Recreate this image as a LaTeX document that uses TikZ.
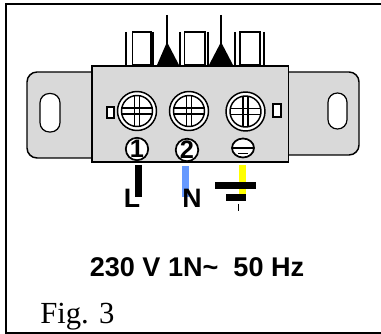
\documentclass[tikz,border=0pt]{standalone}
\usepackage{fontspec}
\setmainfont{Liberation Serif}
\newfontfamily\arialf{Liberation Sans}
\definecolor{bodygray}{HTML}{D9D9D9}
\definecolor{wireblue}{HTML}{6699FF}
\definecolor{wireyellow}{HTML}{FFFF00}
\tikzset{
  x=0.75pt,y=-0.75pt,
  frame/.style={draw=black,line width=1.6pt},
  part/.style={draw=black,line width=1.1pt,fill=bodygray},
  slot/.style={draw=black,line width=0.9pt,fill=white,rounded corners=7pt},
  pin/.style={draw=black,line width=0.9pt},
  blade/.style={draw=black,line width=0.9pt,fill=white},
  solid bar/.style={fill=black,draw=none},
  sanslabel/.style={font=\arialf\bfseries\fontsize{20}{22}\selectfont,inner sep=0pt,anchor=base},
  termlabel/.style={draw=black,line width=1.3pt,fill=white,circle,inner sep=0pt,font=\arialf\bfseries\fontsize{19}{19}\selectfont},
  screw/.style={draw=black,line width=1.1pt,fill=white},
}
\newcommand{\screwhead}[2]{%
  \path[screw] (#1,#2) circle[radius=19.5];
  \path[screw] (#1,#2) circle[radius=15.5];
  \draw[pin] (#1-15,#2-3) -- (#1+15,#2-3) (#1-15,#2+3) -- (#1+15,#2+3);
  \draw[pin] (#1-2.5,#2-15) -- (#1-2.5,#2+15) (#1+2.5,#2-15) -- (#1+2.5,#2+15);
}
\begin{document}
\begin{tikzpicture}
\useasboundingbox (0,0) rectangle (381,334);
\path[frame] (381,4) -- (6,4) -- (6,333) -- (381,333);
% ears
\path[part] (92,72) -- (37,72) arc[start angle=90,end angle=180,radius=7.5pt] -- (27,148) arc[start angle=180,end angle=270,radius=7.5pt] -- (92,158) -- cycle;
\path[part] (288,72) -- (349,72) arc[start angle=90,end angle=0,radius=7.5pt] -- (359,145) arc[start angle=0,end angle=-90,radius=7.5pt] -- (288,155) -- cycle;
\path[slot] (40,93.5) rectangle (60,132);
\path[slot] (328,93) rectangle (347,129);
% blades
\draw[pin] (126,32) -- (126,66) (153,32) -- (153,66) (180,32) -- (180,66) (208,32) -- (208,66) (235,32) -- (235,66) (264,32) -- (264,66);
\path[blade] (132.5,32) rectangle (151,64.5);
\path[blade] (184.5,32) rectangle (205,64.5);
\path[blade] (240,32) rectangle (260,64.5);
\fill (167,42) -- (157,65) -- (179,65) -- cycle;
\fill (221,42) -- (209,65) -- (233,65) -- cycle;
\draw[pin] (167,15) -- (167,44) (221,15) -- (221,44);
% main body
\path[part] (92,66) rectangle (288.5,162);
\path[blade] (107,107) rectangle (114,118);
\path[blade] (273,104) rectangle (281,117);
\screwhead{137}{111}
\screwhead{189}{111}
\screwhead{245.5}{111.5}
% numbered terminals
\node[termlabel,minimum size=16pt] (t1) at (137,149) {1};
\node[termlabel,minimum size=16.5pt] (t2) at (187,150) {2};
\path[draw=black,line width=1.3pt,fill=white] (243,148) ellipse[x radius=11,y radius=9.5];
\draw[line width=0.9pt] (233,148) -- (253,148) (238,153.5) -- (248,153.5);
% wires
\fill[black] (135,165) rectangle (142,197);
\fill[wireblue] (182,166) rectangle (189,197);
\fill[wireyellow] (239,165) rectangle (246,194);
\path[solid bar] (215,182) rectangle (256,189);
\path[solid bar] (226,194) rectangle (246,201);
\draw[line width=0.7pt] (238,204) -- (238,211);
% labels
\node[sanslabel] (L) at (132,208) {L};
\node[sanslabel] (N) at (192,208) {N};
\node[font=\arialf\bfseries\fontsize{20.3}{22}\selectfont,inner sep=0pt,anchor=base] (rating) at (197,276) {230 V 1N\char`\~\ \ 50 Hz};
\node[font=\fontsize{23}{25}\selectfont,inner sep=0pt,anchor=base west] (fig) at (40,323) {Fig. 3};
\end{tikzpicture}
\end{document}
